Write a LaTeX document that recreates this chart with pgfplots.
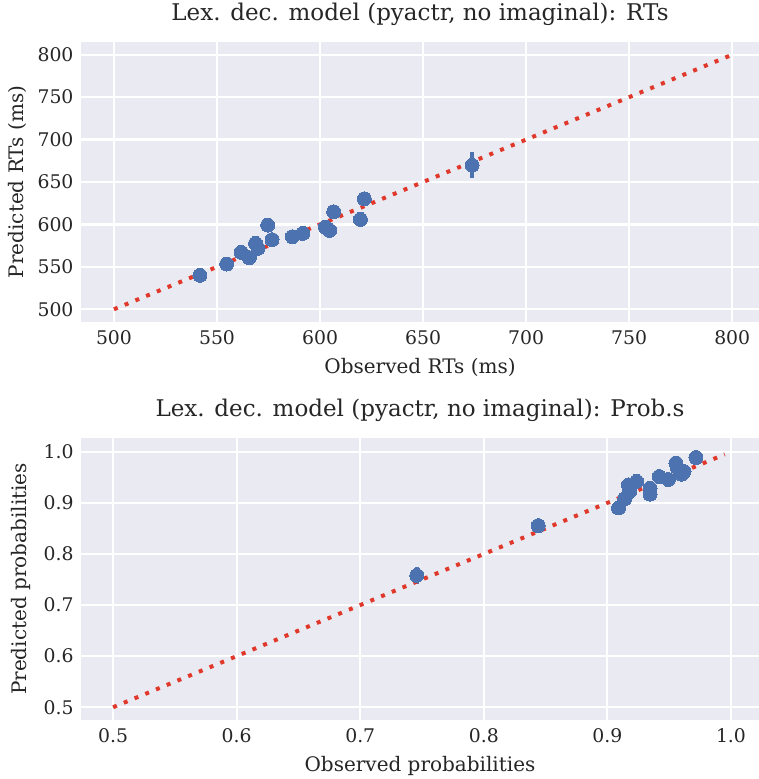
\documentclass[border=0pt]{standalone}
\usepackage{fontspec}
\setmainfont{DejaVu Serif}
\usepackage{pgfplots}
\usepackage{pgfplotstable}
\pgfplotsset{compat=1.18}
\definecolor{bg}{HTML}{EAEAF2}
\definecolor{sbblue}{HTML}{4C72B0}
\definecolor{dotred}{HTML}{E0392B}
\definecolor{txt}{HTML}{262626}
\pgfplotstableread{
x y e
541.7 540.0 0
554.7 553.3 0
561.7 567.0 0
565.7 560.8 0
568.7 577.6 0
569.9 571.8 0
574.6 599.2 0
576.7 582.0 0
586.6 585.5 0
591.7 589.4 0
602.6 596.8 0
604.7 592.9 0
606.6 614.9 0
619.6 605.9 0
621.5 630.2 0
673.8 669.8 15
}\rtdata
\pgfplotstableread{
x y e
0.7457 0.758 0.017
0.844 0.8555 0
0.909 0.890 0
0.914 0.908 0
0.917 0.935 0
0.918 0.922 0
0.9237 0.942 0
0.9345 0.9288 0
0.9345 0.917 0
0.942 0.9516 0
0.9493 0.9457 0
0.9555 0.978 0
0.9566 0.969 0
0.9620 0.9614 0
0.960 0.956 0
0.9717 0.9889 0
}\probdata
\pgfplotsset{
  sbstyle/.style={
    scale only axis, width=678pt,
    axis background/.style={fill=bg},
    axis line style={draw=none},
    grid=major, major grid style={white, line width=2.2pt},
    major tick length=0pt,
    tick label style={text=txt, font=\fontsize{18.8}{22}\selectfont},
    label style={font=\fontsize{20}{24}\selectfont},
    title style={font=\fontsize{23}{27}\selectfont},
    /pgf/number format/assume math mode=true,
    xticklabel style={anchor=base, yshift=-23pt},
    yticklabel style={xshift=-4pt},
  },
  scat/.style={only marks, mark=*, mark size=7pt, color=sbblue,
    mark options={fill=sbblue, draw=sbblue, line width=0pt},
    error bars/.cd, y dir=both, y explicit, error mark=none,
    error bar style={line width=4pt, sbblue}},
  dline/.style={dotred, line width=4pt, dash pattern=on 4pt off 7.6pt, line cap=butt},
}
\begin{document}
\begin{tikzpicture}[text=txt]
\useasboundingbox (0,0) rectangle (759pt,779pt);
\begin{axis}[sbstyle, at={(81pt,457pt)}, anchor=south west, height=280pt,
  xmin=484, xmax=813, ymin=485, ymax=815,
  xtick={500,550,...,800}, ytick={500,550,...,800},
  title={Lex. dec. model (pyactr, no imaginal): RTs},
  title style={at={(axis description cs:0.5,1.0536)}, anchor=base},
  xlabel={Observed RTs (ms)},
  xlabel style={at={(axis description cs:0.5,-0.1857)}, anchor=base},
  ylabel={Predicted RTs (ms)},
  ylabel style={at={(axis description cs:-0.0855,0.5)}, anchor=base, rotate=0},
]
\addplot[scat] table[x=x, y=y, y error=e] {\rtdata};
\addplot[dline] coordinates {(500,500) (800,800)};
\end{axis}
\begin{axis}[sbstyle, at={(81pt,59pt)}, anchor=south west, height=282pt,
  xmin=0.474, xmax=1.0227, ymin=0.475, ymax=1.027,
  xtick={0.5,0.6,...,1.0}, ytick={0.5,0.6,...,1.0},
  xticklabel style={/pgf/number format/.cd, fixed, fixed zerofill, precision=1},
  yticklabel style={/pgf/number format/.cd, fixed, fixed zerofill, precision=1},
  title={Lex. dec. model (pyactr, no imaginal): Prob.s},
  title style={at={(axis description cs:0.5,1.0565)}, anchor=base},
  xlabel={Observed probabilities},
  xlabel style={at={(axis description cs:0.5,-0.1837)}, anchor=base},
  ylabel={Predicted probabilities},
  ylabel style={at={(axis description cs:-0.0807,0.5)}, anchor=base},
]
\addplot[scat] table[x=x, y=y, y error=e] {\probdata};
\addplot[dline] coordinates {(0.5,0.5) (0.995,0.995)};
\end{axis}
\end{tikzpicture}
\end{document}
